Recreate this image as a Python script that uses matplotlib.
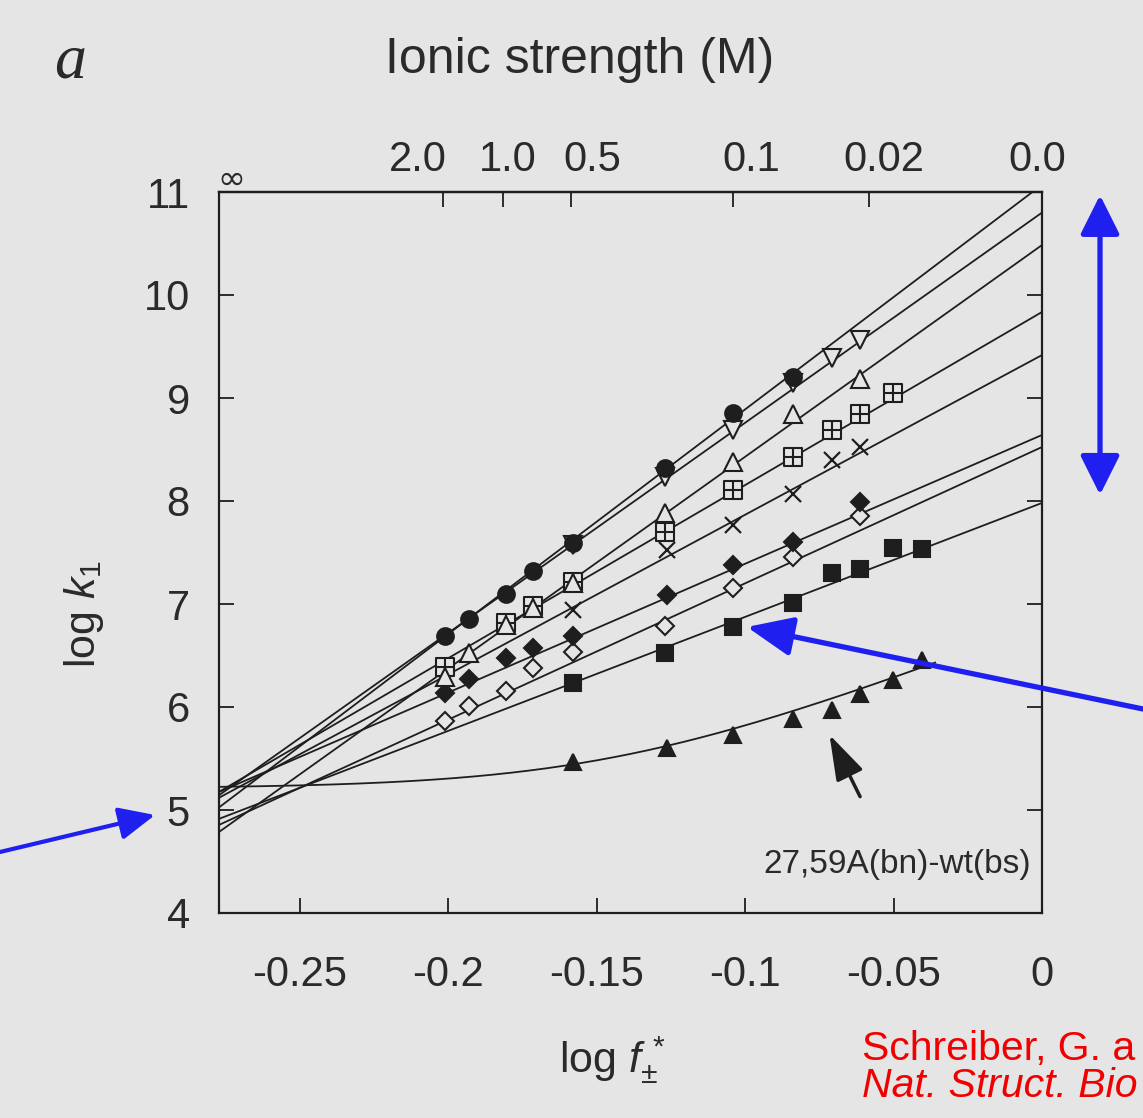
import numpy as np
import matplotlib
matplotlib.use('Agg')
import matplotlib.pyplot as plt
from matplotlib.path import Path

BG = '#e5e5e5'
INK = '#1e1e1e'
TXT = '#2a2a2a'
BLUE = '#1f1ff0'
RED = '#f00000'

plt.rcParams['font.family'] = ['Liberation Sans', 'DejaVu Sans']
plt.rcParams['mathtext.fontset'] = 'custom'
plt.rcParams['mathtext.rm'] = 'Liberation Sans'
plt.rcParams['mathtext.it'] = 'Liberation Sans:italic'
plt.rcParams['mathtext.sf'] = 'Liberation Sans'

# ---------------- data ----------------
x_circle = [-0.2011, -0.1931, -0.1806, -0.1715, -0.1580, -0.1270, -0.1041, -0.0839]
y_circle = [6.69, 6.85, 7.10, 7.32, 7.59, 8.32, 8.85, 9.20]
x_vtri = [-0.1580, -0.1270, -0.1041, -0.0839, -0.0708, -0.0613]
y_vtri = [7.57, 8.23, 8.69, 9.15, 9.39, 9.56]
x_tri = [-0.2011, -0.1931, -0.1806, -0.1715, -0.1580, -0.1270, -0.1041, -0.0839, -0.0613]
y_tri = [6.29, 6.52, 6.80, 6.96, 7.20, 7.88, 8.38, 8.84, 9.18]
x_grid = [-0.2011, -0.1806, -0.1715, -0.1580, -0.1270, -0.1041, -0.0839, -0.0708, -0.0613, -0.0502]
y_grid = [6.39, 6.82, 6.98, 7.21, 7.70, 8.11, 8.43, 8.69, 8.84, 9.05]
x_cross = [-0.1580, -0.1263, -0.1041, -0.0839, -0.0708, -0.0613]
y_cross = [6.94, 7.52, 7.77, 8.07, 8.40, 8.52]
x_fdiam = [-0.2011, -0.1931, -0.1806, -0.1715, -0.1580, -0.1263, -0.1041, -0.0839, -0.0613]
y_fdiam = [6.14, 6.27, 6.48, 6.57, 6.69, 7.09, 7.38, 7.60, 7.99]
x_odiam = [-0.2011, -0.1931, -0.1806, -0.1715, -0.1580, -0.1270, -0.1041, -0.0839, -0.0613]
y_odiam = [5.86, 6.01, 6.16, 6.38, 6.53, 6.79, 7.16, 7.46, 7.85]
x_fsq = [-0.1580, -0.1270, -0.1041, -0.0839, -0.0708, -0.0613, -0.0502, -0.0404]
y_fsq = [6.23, 6.52, 6.78, 7.01, 7.30, 7.34, 7.54, 7.53]
x_ftri = [-0.1580, -0.1263, -0.1041, -0.0839, -0.0708, -0.0613, -0.0502, -0.0404]
y_ftri = [5.47, 5.60, 5.73, 5.88, 5.97, 6.13, 6.26, 6.46]

# fitted straight lines: log k1 at log f = 0 (intercept) and slope
fit_intercept = [11.07, 10.80, 10.485, 9.835, 9.417, 8.641, 8.524, 7.981]
fit_slope = [21.8, 20.4, 20.55, 16.8, 15.5, 12.5, 13.23, 11.06]
# curved fit for 27,59A(bn)-wt(bs): log10(10^basal + 10^(el0 + el_slope*x))
curve_basal = 5.21
curve_el0 = 6.80
curve_el_slope = 11.0
curve_xmax = -0.036

xmin, xmax = -0.2773, 0.0
x_ticks = [-0.25, -0.2, -0.15, -0.1, -0.05, 0]
x_ticklabels = ['-0.25', '-0.2', '-0.15', '-0.1', '-0.05', '0']
y_ticks = [4, 5, 6, 7, 8, 9, 10, 11]
ionic_tick_pos = [-0.2018, -0.1816, -0.1587, -0.1041, -0.0583]
ionic_label_pos = [-0.2102, -0.1799, -0.1516, -0.0980, -0.0532, -0.0017]
ionic_labels = ['2.0', '1.0', '0.5', '0.1', '0.02', '0.0']

# ---------------- figure ----------------
fig = plt.figure(figsize=(11.43, 11.18), dpi=100, facecolor=BG)
ax = fig.add_axes([219/1143, 1-913/1118, (1042-219)/1143, (913-192)/1118])
ax.set_facecolor(BG)

xl = np.array([xmin, xmax])
for b, m in zip(fit_intercept, fit_slope):
    ax.plot(xl, b + m*xl, color=INK, lw=1.3, zorder=2)

xc = np.linspace(xmin, curve_xmax, 300)
yc = np.log10(10**curve_basal + 10**(curve_el0 + curve_el_slope*xc))
ax.plot(xc, yc, color=INK, lw=1.3, zorder=2)

grid_marker = Path([(-1, -1), (1, -1), (1, 1), (-1, 1), (-1, -1),
                    (0, -1), (0, 1), (-1, 0), (1, 0)],
                   [Path.MOVETO, Path.LINETO, Path.LINETO, Path.LINETO, Path.CLOSEPOLY,
                    Path.MOVETO, Path.LINETO, Path.MOVETO, Path.LINETO])

def pts(x, y, marker, ms, filled, mew=1.5):
    ax.plot(x, y, ls='none', marker=marker, ms=ms, mec=INK, mew=mew,
            mfc=INK if filled else BG, zorder=3)

pts(x_odiam, y_odiam, 'D', 9.5, False)
pts(x_fdiam, y_fdiam, 'D', 9, True)
pts(x_cross, y_cross, 'x', 12, False, mew=1.6)
pts(x_grid, y_grid, grid_marker, 13, False)
pts(x_tri, y_tri, '^', 13, False)
pts(x_vtri, y_vtri, 'v', 13, False)
pts(x_circle, y_circle, 'o', 12, True)
pts(x_fsq, y_fsq, 's', 12, True)
pts(x_ftri, y_ftri, '^', 12, True)

ax.set_xlim(xmin, xmax)
ax.set_ylim(4, 11)
ax.set_xticks(x_ticks)
ax.set_xticklabels(x_ticklabels)
ax.set_yticks(y_ticks)
ax.set_yticklabels([str(v) for v in y_ticks])
ax.tick_params(axis='both', direction='in', length=11, width=1.3, colors=INK,
               labelsize=30, labelcolor=TXT)
ax.tick_params(axis='x', pad=30)
ax.tick_params(axis='y', pad=21, right=True)
for s in ax.spines.values():
    s.set_linewidth(1.6)
    s.set_color(INK)

top = ax.secondary_xaxis('top')
top.set_xticks(ionic_tick_pos)
top.set_xticklabels([''] * len(ionic_tick_pos))
top.tick_params(direction='in', length=11, width=1.3, colors=INK)
top.spines['top'].set_linewidth(1.6)
for xp, lab in zip(ionic_label_pos, ionic_labels):
    ax.annotate(lab, xy=(xp, 1.0), xycoords=('data', 'axes fraction'),
                xytext=(0, 23), textcoords='offset points', fontsize=30,
                color=TXT, ha='center', va='center')

ax.annotate('\u221e', xy=(xmin, 1.0), xycoords=('data', 'axes fraction'),
            xytext=(9, 9), textcoords='offset points', fontsize=24, color=TXT,
            ha='center', va='center', family=['DejaVu Sans'])

ax.set_ylabel(r'log $\mathit{k}_1$', fontsize=31, color=TXT)
ax.yaxis.set_label_coords((84-219)/823, (913-614)/721)
ax.yaxis.label.set_verticalalignment('center')
ax.set_xlabel(r'log $\mathit{f}^{\,*}_{\pm}$', fontsize=31, color=TXT)
ax.xaxis.set_label_coords((612-219)/823, (913-1060)/721)
ax.xaxis.label.set_verticalalignment('center')

fig.text(70/1143, 1-62/1118, 'a', fontsize=46, style='italic',
         family=['Liberation Serif'], color=TXT, ha='center', va='center')
fig.text(580/1143, 1-60/1118, 'Ionic strength (M)', fontsize=36,
         color=TXT, ha='center', va='center')

# label and black arrow for the curved series
ax.text(-0.0489, 4.47, '27,59A(bn)-wt(bs)', fontsize=24, color=TXT,
        ha='center', va='center')
ax.annotate('', xy=(-0.0716, 5.73), xytext=(-0.0613, 5.13),
            arrowprops=dict(arrowstyle='-|>,head_length=1.4,head_width=0.45',
                            color=INK, lw=2.5, mutation_scale=20,
                            shrinkA=0, shrinkB=0))

# blue arrows
ax.annotate('', xy=(1.0705, 10.97), xycoords=('axes fraction', 'data'),
            xytext=(1.0705, 8.06), textcoords=('axes fraction', 'data'),
            arrowprops=dict(arrowstyle='<|-|>,head_length=1.2,head_width=0.6',
                            color=BLUE, lw=3.8, mutation_scale=20,
                            shrinkA=0, shrinkB=0))
ax.annotate('', xy=(-0.0994, 6.777), xycoords='data',
            xytext=(1.0, 1-709/1118), textcoords='figure fraction',
            arrowprops=dict(arrowstyle='-|>,head_length=1.4,head_width=0.6',
                            color=BLUE, lw=3.8, mutation_scale=20,
                            shrinkA=0, shrinkB=0))
ax.annotate('', xy=(155/1143, 1-815/1118), xycoords='figure fraction',
            xytext=(0.0, 1-852/1118), textcoords='figure fraction',
            arrowprops=dict(arrowstyle='-|>,head_length=1.1,head_width=0.5',
                            color=BLUE, lw=3, mutation_scale=20,
                            shrinkA=0, shrinkB=0))

fig.text(862/1143, 1-1049/1118, 'Schreiber, G. a', fontsize=29.5,
         color=RED, ha='left', va='center')
fig.text(862/1143, 1-1086/1118, 'Nat. Struct. Bio', fontsize=29.5,
         color=RED, ha='left', va='center', style='italic')

fig.savefig('out.png', dpi=100, facecolor=BG)
